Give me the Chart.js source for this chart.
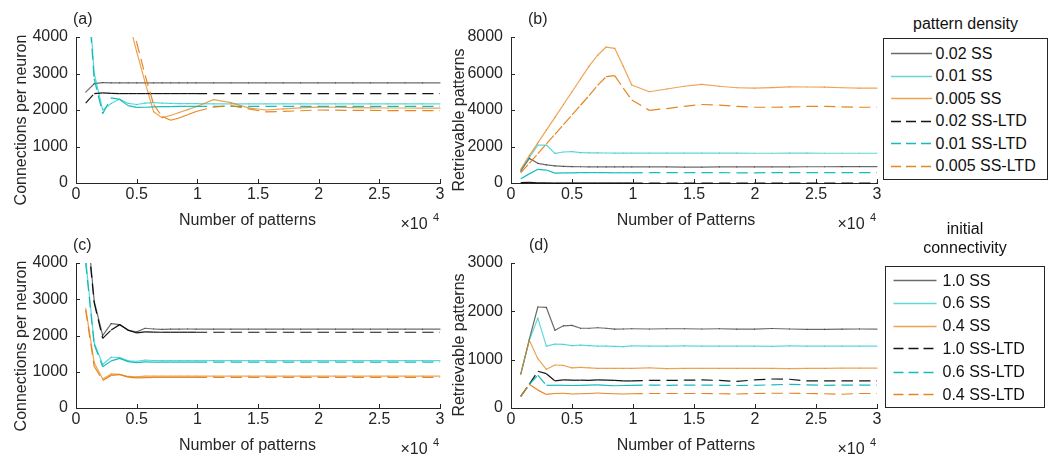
<!DOCTYPE html>
<html><head><meta charset="utf-8">
<script src="https://cdn.jsdelivr.net/npm/chart.js@4.4.1/dist/chart.umd.min.js"></script>
<style>
html,body{margin:0;padding:0;background:#fff}
body{width:1055px;height:458px;position:relative;overflow:hidden;font-family:"Liberation Sans",Arial,Helvetica,sans-serif;color:#262626}
canvas{position:absolute}
.t{position:absolute;font-size:16px;line-height:1;white-space:nowrap}
.box{position:absolute;border:1px solid #262626;box-sizing:border-box;background:#fff}
</style>
</head><body>
<canvas id="ca" width="450" height="230" style="left:0;top:0"></canvas>
<canvas id="cb" width="450" height="230" style="left:440px;top:0"></canvas>
<canvas id="cc" width="450" height="228" style="left:0;top:230px"></canvas>
<canvas id="cd" width="450" height="228" style="left:440px;top:230px"></canvas>
<script>
// ---------- data ----------
const patterns = [800, 1500, 2200, 2900, 3600, 4300, 5000, 5700, 6400, 7100, 7800, 8500, 9200, 9900,
  11340, 12770, 14210, 15640, 17080, 18510, 19950, 21390, 22820, 24260, 25690, 27130, 28560, 30000];

// (a) connections per neuron, pattern density
const a002SS  = [2490, 2720, 2750, 2745, 2745, 2745, 2745, 2745, 2745, 2745, 2745, 2745, 2745, 2745, 2745, 2745, 2745, 2745, 2745, 2745, 2745, 2745, 2745, 2745, 2745, 2745, 2745, 2745];
const a001SS  = [6300, 3000, 2000, 2180, 2300, 2180, 2150, 2190, 2200, 2190, 2180, 2175, 2175, 2175, 2170, 2170, 2170, 2170, 2170, 2170, 2170, 2170, 2170, 2170, 2170, 2170, 2170, 2170];
const a0005SS = [16000, 13000, 10500, 8500, 6800, 4500, 3600, 2750, 1950, 1790, 1850, 1930, 2010, 2090, 2285, 2200, 2060, 2000, 2030, 2060, 2080, 2075, 2065, 2060, 2055, 2055, 2050, 2050];
const a002LTD = [2190, 2450, 2470, 2455, 2450, 2450, 2450, 2450, 2450, 2450, 2450, 2450, 2450, 2450, 2450, 2450, 2450, 2450, 2450, 2450, 2450, 2450, 2450, 2450, 2450, 2450, 2450, 2450];
const a001LTD = [6000, 2850, 1900, 2330, 2290, 2120, 2070, 2075, 2085, 2090, 2095, 2100, 2100, 2100, 2100, 2100, 2100, 2100, 2100, 2100, 2100, 2100, 2100, 2100, 2100, 2100, 2100, 2100];
const a0005LTD= [17000, 14000, 11000, 9000, 7200, 4800, 3850, 2950, 2150, 1820, 1720, 1780, 1870, 1960, 2080, 2120, 2030, 1950, 1960, 1980, 2000, 1995, 1990, 1990, 1985, 1985, 1985, 1985];

// (b) retrievable patterns, pattern density
const b002SS  = [650, 1350, 1080, 990, 940, 910, 900, 890, 885, 880, 880, 880, 880, 880, 880, 880, 875, 875, 880, 880, 880, 885, 885, 890, 890, 895, 900, 900];
const b001SS  = [700, 1400, 2080, 2080, 1620, 1700, 1720, 1660, 1650, 1650, 1645, 1640, 1640, 1640, 1640, 1640, 1640, 1640, 1635, 1635, 1630, 1630, 1635, 1635, 1630, 1630, 1630, 1630];
const b0005SS = [750, 1500, 2200, 2900, 3600, 4300, 5000, 5700, 6400, 7000, 7450, 7380, 6400, 5370, 5000, 5150, 5300, 5400, 5300, 5220, 5200, 5230, 5270, 5260, 5250, 5220, 5200, 5200];
const b002LTD = [20, 30, 15, 5, 0, 0, 0, 0, 0, 0, 0, 0, 0, 0, 0, 0, 0, 0, 0, 0, 0, 0, 0, 0, 0, 0, 0, 0];
const b001LTD = [230, 500, 750, 710, 540, 550, 560, 565, 570, 570, 565, 560, 560, 560, 565, 570, 570, 565, 565, 560, 560, 565, 565, 565, 565, 565, 565, 565];
const b0005LTD= [550, 1080, 1610, 2140, 2670, 3200, 3730, 4260, 4790, 5350, 5830, 5880, 5200, 4550, 3980, 4080, 4200, 4300, 4270, 4200, 4150, 4150, 4170, 4200, 4200, 4170, 4150, 4150];

// (c) connections per neuron, initial connectivity
const c10SS  = [5500, 2950, 2000, 2330, 2300, 2140, 2100, 2200, 2180, 2170, 2175, 2175, 2180, 2175, 2175, 2175, 2175, 2175, 2175, 2175, 2175, 2175, 2175, 2175, 2175, 2175, 2175, 2175];
const c06SS  = [4100, 1800, 1200, 1400, 1390, 1300, 1290, 1320, 1310, 1305, 1305, 1305, 1305, 1305, 1305, 1305, 1305, 1305, 1305, 1305, 1305, 1305, 1305, 1305, 1305, 1305, 1305, 1305];
const c04SS  = [2750, 1250, 800, 940, 930, 870, 860, 880, 880, 880, 880, 880, 880, 880, 880, 880, 880, 880, 880, 880, 880, 880, 880, 880, 880, 880, 880, 880];
const c10LTD = [5300, 2900, 1920, 2150, 2300, 2150, 2070, 2100, 2095, 2090, 2090, 2090, 2090, 2090, 2090, 2090, 2090, 2090, 2090, 2090, 2090, 2090, 2090, 2090, 2090, 2090, 2090, 2090];
const c06LTD = [4000, 1750, 1140, 1300, 1370, 1280, 1250, 1270, 1265, 1265, 1265, 1265, 1265, 1265, 1265, 1265, 1265, 1265, 1265, 1265, 1265, 1265, 1265, 1265, 1265, 1265, 1265, 1265];
const c04LTD = [2700, 1150, 760, 900, 920, 850, 830, 840, 845, 845, 845, 845, 845, 845, 845, 845, 845, 845, 845, 845, 845, 845, 845, 845, 845, 845, 845, 845];

// (d) retrievable patterns, initial connectivity
const d10SS  = [700, 1420, 2090, 2080, 1610, 1700, 1710, 1650, 1650, 1660, 1650, 1630, 1635, 1640, 1635, 1640, 1640, 1635, 1640, 1630, 1630, 1645, 1635, 1625, 1625, 1630, 1635, 1630];
const d06SS  = [700, 1400, 1860, 1280, 1320, 1315, 1290, 1300, 1290, 1280, 1280, 1275, 1270, 1285, 1280, 1280, 1285, 1280, 1280, 1280, 1280, 1275, 1285, 1280, 1280, 1280, 1280, 1280];
const d04SS  = [700, 1400, 1020, 800, 890, 880, 830, 840, 830, 820, 820, 820, 820, 820, 830, 815, 820, 820, 820, 820, 820, 820, 815, 820, 820, 825, 825, 825];
const d10LTD = [240, 490, 760, 710, 560, 580, 575, 575, 570, 580, 575, 570, 560, 560, 570, 570, 575, 580, 570, 550, 580, 600, 595, 560, 560, 560, 560, 560];
const d06LTD = [240, 490, 680, 470, 470, 470, 465, 470, 475, 480, 470, 460, 465, 470, 475, 470, 475, 475, 470, 465, 470, 480, 490, 480, 470, 475, 475, 475];
const d04LTD = [240, 490, 370, 280, 300, 305, 290, 295, 300, 310, 300, 295, 290, 295, 300, 300, 300, 300, 295, 290, 300, 305, 305, 300, 295, 285, 300, 300];

const xTicks = [0, 5000, 10000, 15000, 20000, 25000, 30000];
const densityLabels = ['0.02 SS', '0.01 SS', '0.005 SS', '0.02 SS-LTD', '0.01 SS-LTD', '0.005 SS-LTD'];
const connLabels = ['1.0 SS', '0.6 SS', '0.4 SS', '1.0 SS-LTD', '0.6 SS-LTD', '0.4 SS-LTD'];

// ---------- styles ----------
const INK = '#262626';
const FONT = '"Liberation Sans", Arial, sans-serif';
const FS = 16;
const colSS  = ['rgba(0,0,0,0.58)', 'rgba(0,192,192,0.62)', 'rgba(232,128,20,0.72)'];
const colLTD = ['rgba(0,0,0,0.92)', 'rgba(0,182,182,0.92)', 'rgba(228,124,14,0.92)'];
const DASH = [11, 6];

function ds(label, ys, color, dashed, order) {
  return {
    label,
    data: patterns.map((x, i) => ({x, y: ys[i]})),
    borderColor: color,
    borderWidth: 1.2,
    borderCapStyle: dashed ? 'butt' : 'round',
    borderJoinStyle: 'round',
    pointRadius: 0,
    tension: 0,
    fill: false,
    order,
    clip: {left: 0, top: 0, right: 2, bottom: 2},
    segment: {
      borderDash: c => dashed ? DASH : [],
      borderDashOffset: c => c.p0DataIndex * 1e-4
    }
  };
}

const inwardTicks = {
  id: 'inwardTicks',
  afterDraw(chart) {
    const {ctx, chartArea: a, scales: {x, y}} = chart;
    ctx.save();
    ctx.strokeStyle = INK;
    ctx.lineWidth = 1;
    ctx.beginPath();
    x.ticks.forEach(t => {
      const px = Math.round(x.getPixelForValue(t.value)) + 0.5;
      ctx.moveTo(px, a.bottom); ctx.lineTo(px, a.bottom - 4);
    });
    y.ticks.forEach(t => {
      const py = Math.round(y.getPixelForValue(t.value)) + 0.5;
      ctx.moveTo(a.left, py); ctx.lineTo(a.left + 4, py);
    });
    ctx.stroke();
    ctx.restore();
  }
};

function makeChart(id, sets, ymax, ystep, geo) {
  const series = [
    ds('', sets[0], colSS[0], false, 6), ds('', sets[1], colSS[1], false, 5), ds('', sets[2], colSS[2], false, 4),
    ds('', sets[3], colLTD[0], true, 3), ds('', sets[4], colLTD[1], true, 2), ds('', sets[5], colLTD[2], true, 1)
  ];
  return new Chart(document.getElementById(id), {
    type: 'line',
    data: {datasets: series},
    plugins: [inwardTicks],
    options: {
      responsive: false, animation: false, devicePixelRatio: 1,
      layout: {padding: {top: geo.top, right: geo.right, left: 0, bottom: 0}},
      plugins: {legend: {display: false}, tooltip: {enabled: false}},
      scales: {
        x: {
          type: 'linear', min: 0, max: 30000,
          afterBuildTicks: s => { s.ticks = xTicks.map(v => ({value: v})); },
          afterFit: s => { s.height = geo.xh; },
          grid: {display: false, drawTicks: false},
          border: {display: true, color: INK, width: 1},
          ticks: {color: INK, font: {family: FONT, size: FS}, padding: 2, maxRotation: 0, autoSkip: false,
                  callback: v => String(v / 10000)}
        },
        y: {
          type: 'linear', min: 0, max: ymax,
          afterFit: s => { s.width = geo.yw; },
          grid: {display: false, drawTicks: false},
          border: {display: true, color: INK, width: 1},
          ticks: {color: INK, font: {family: FONT, size: FS}, padding: 8, stepSize: ystep, autoSkip: false,
                  callback: v => String(v)}
        }
      }
    }
  });
}

makeChart('ca', [a002SS, a001SS, a0005SS, a002LTD, a001LTD, a0005LTD], 4000, 1000, {top: 37, right: 10, xh: 47, yw: 76});
makeChart('cb', [b002SS, b001SS, b0005SS, b002LTD, b001LTD, b0005LTD], 8000, 2000, {top: 37, right: 13, xh: 47, yw: 71});
makeChart('cc', [c10SS, c06SS, c04SS, c10LTD, c06LTD, c04LTD], 4000, 1000, {top: 33, right: 10, xh: 50, yw: 76});
makeChart('cd', [d10SS, d06SS, d04SS, d10LTD, d06LTD, d04LTD], 3000, 1000, {top: 33, right: 13, xh: 50, yw: 71});

// ---------- text ----------
function addText(str, x, y, opt = {}) {
  const d = document.createElement('div');
  d.className = 't';
  d.textContent = str;
  d.style.left = x + 'px';
  d.style.top = y + 'px';
  if (opt.size) d.style.fontSize = opt.size + 'px';
  if (opt.color) d.style.color = opt.color;
  const ax = opt.anchor === 'left' ? '0' : '-50%';
  d.style.transform = `translate(${ax},-50%)` + (opt.rot ? ' rotate(-90deg)' : '');
  document.body.appendChild(d);
  return d;
}
addText('(a)', 73, 18.5, {anchor: 'left'});
addText('(b)', 528, 18.5, {anchor: 'left'});
addText('(c)', 73, 245, {anchor: 'left'});
addText('(d)', 529, 245, {anchor: 'left'});

addText('Connections per neuron', 21, 120, {rot: true});
addText('Retrievable patterns', 458.5, 120, {rot: true});
addText('Connections per neuron', 21, 346, {rot: true});
addText('Retrievable patterns', 458.5, 345, {rot: true});

addText('Number of patterns', 247.5, 220);
addText('Number of Patterns', 686, 220);
addText('Number of patterns', 247.5, 445);
addText('Number of Patterns', 686, 445);

[[414, 224], [851, 224], [414, 449], [851, 449]].forEach(([x, y]) => {
  addText('\u00d710', x, y);
  addText('4', x + 19, y - 7, {size: 11, anchor: 'left'});
});

// ---------- legends ----------
function legend(titleLines, box, rows, lineX0, lineX1, textX, labels) {
  titleLines.forEach(([t, y]) => addText(t, (box.l + box.r) / 2, y, {color: '#111'}));
  const b = document.createElement('div');
  b.className = 'box';
  Object.assign(b.style, {left: box.l + 'px', top: box.t + 'px', width: (box.r - box.l) + 'px', height: (box.b - box.t) + 'px'});
  document.body.appendChild(b);
  const svgNS = 'http://www.w3.org/2000/svg';
  const svg = document.createElementNS(svgNS, 'svg');
  svg.setAttribute('width', 1055); svg.setAttribute('height', 458);
  svg.style.position = 'absolute'; svg.style.left = '0'; svg.style.top = '0';
  labels.forEach((lab, i) => {
    const ln = document.createElementNS(svgNS, 'line');
    const y = Math.round(rows[i]) + 0.5;
    ln.setAttribute('x1', lineX0); ln.setAttribute('x2', lineX1);
    ln.setAttribute('y1', y); ln.setAttribute('y2', y);
    ln.setAttribute('stroke', i < 3 ? colSS[i] : colLTD[i - 3]);
    ln.setAttribute('stroke-width', 1.5);
    if (i >= 3) ln.setAttribute('stroke-dasharray', '10 5');
    svg.appendChild(ln);
    addText(lab, textX, rows[i] + 0.5, {anchor: 'left', color: '#111'});
  });
  document.body.appendChild(svg);
}
legend([['pattern density', 23.5]], {l: 883, t: 38, r: 1048, b: 180},
  [53, 75.5, 98, 120.5, 143, 165.5], 891, 932, 935.5, densityLabels);
legend([['initial', 229], ['connectivity', 248]], {l: 885, t: 266, r: 1045, b: 408},
  [280, 302.7, 325.5, 348.3, 371.5, 394], 893.5, 936.5, 942.5, connLabels);
</script>
</body></html>
